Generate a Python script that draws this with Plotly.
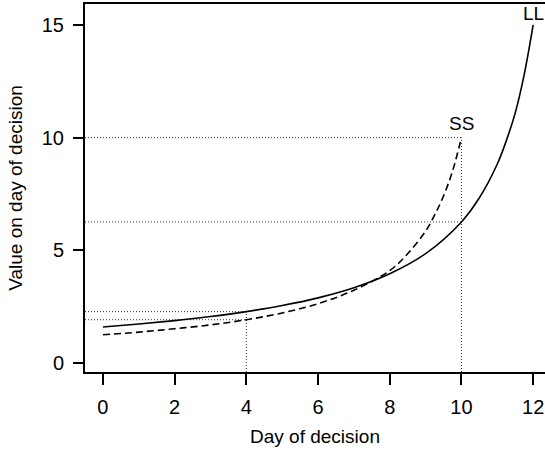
import plotly.graph_objects as go

# Day of decision grid
ll_days = [0, 1, 2, 3, 4, 5, 6, 7, 8, 9, 10, 10.5, 11, 11.25, 11.5, 11.75, 12]
ll_values = [1.60, 1.73, 1.88, 2.06, 2.28, 2.55, 2.89, 3.34, 3.96, 4.85, 6.26, 7.33, 8.83, 9.86, 11.1, 12.8, 15.0]

ss_days = [0, 1, 2, 3, 4, 5, 6, 7, 8, 8.5, 9, 9.25, 9.5, 9.75, 10]
ss_values = [1.25, 1.37, 1.52, 1.69, 1.92, 2.22, 2.63, 3.23, 4.10, 4.85, 5.85, 6.56, 7.41, 8.51, 10.0]

# Reference decision points (dotted guides)
early_day = 4
early_ll = 2.28
early_ss = 1.92
late_day = 10
late_ll = 6.26
late_ss = 10.0

labels = ["LL", "SS"]
x_ticks = [0, 2, 4, 6, 8, 10, 12]
y_ticks = [0, 5, 10, 15]

x_range = [-0.5, 12.33]
y_range = [-0.4, 15.93]

FONT = "Liberation Sans, Arial, sans-serif"
TICK_FS = 20
TITLE_FS = 19
DOT = dict(color="#333333", width=1, dash="1px,2px")

fig = go.Figure()

# dotted guides
for yv, xv in [(late_ss, late_day), (late_ll, late_day), (early_ll, early_day), (early_ss, early_day)]:
    fig.add_trace(go.Scatter(x=[x_range[0], xv], y=[yv, yv], mode="lines", line=DOT,
                             hoverinfo="skip", showlegend=False))
for xv, yv in [(early_day, early_ll), (late_day, late_ss)]:
    fig.add_trace(go.Scatter(x=[xv, xv], y=[y_range[0], yv], mode="lines", line=DOT,
                             hoverinfo="skip", showlegend=False))

# curves
fig.add_trace(go.Scatter(x=ll_days, y=ll_values, mode="lines", line_shape="spline",
                         line=dict(color="black", width=1.6), name="LL", showlegend=False))
fig.add_trace(go.Scatter(x=ss_days, y=ss_values, mode="lines", line_shape="spline",
                         line=dict(color="black", width=1.6, dash="7px,4px"), name="SS", showlegend=False))

# labels
fig.add_annotation(x=ll_days[-1], y=ll_values[-1], text=labels[0], showarrow=False,
                   yanchor="bottom", yshift=-1, font=dict(family=FONT, size=TITLE_FS, color="black"))
fig.add_annotation(x=ss_days[-1], y=ss_values[-1], text=labels[1], showarrow=False,
                   yanchor="bottom", yshift=2, font=dict(family=FONT, size=TITLE_FS, color="black"))

fig.update_layout(
    width=545, height=450,
    margin=dict(l=85, r=0, t=4, b=78),
    paper_bgcolor="white", plot_bgcolor="white",
    font=dict(family=FONT, size=TICK_FS, color="black"),
)
fig.update_xaxes(
    range=x_range, tickvals=x_ticks, ticktext=[str(v) for v in x_ticks],
    tickfont=dict(size=TICK_FS),
    showgrid=False, zeroline=False, showline=True, linecolor="black", linewidth=2,
    mirror=True, ticks="outside", ticklen=11, tickwidth=2, tickcolor="black",
    ticklabelstandoff=5,
    title=dict(text="Day of decision", font=dict(family=FONT, size=TITLE_FS), standoff=13),
)
fig.update_yaxes(
    range=y_range, tickvals=y_ticks, ticktext=[str(v) for v in y_ticks],
    tickfont=dict(size=TICK_FS),
    showgrid=False, zeroline=False, showline=True, linecolor="black", linewidth=2,
    ticks="outside", ticklen=10, tickwidth=1.5, tickcolor="black",
    ticklabelstandoff=5,
    title=dict(text="Value on day of decision", font=dict(family=FONT, size=TITLE_FS), standoff=14),
)

fig.write_html("out.html")
